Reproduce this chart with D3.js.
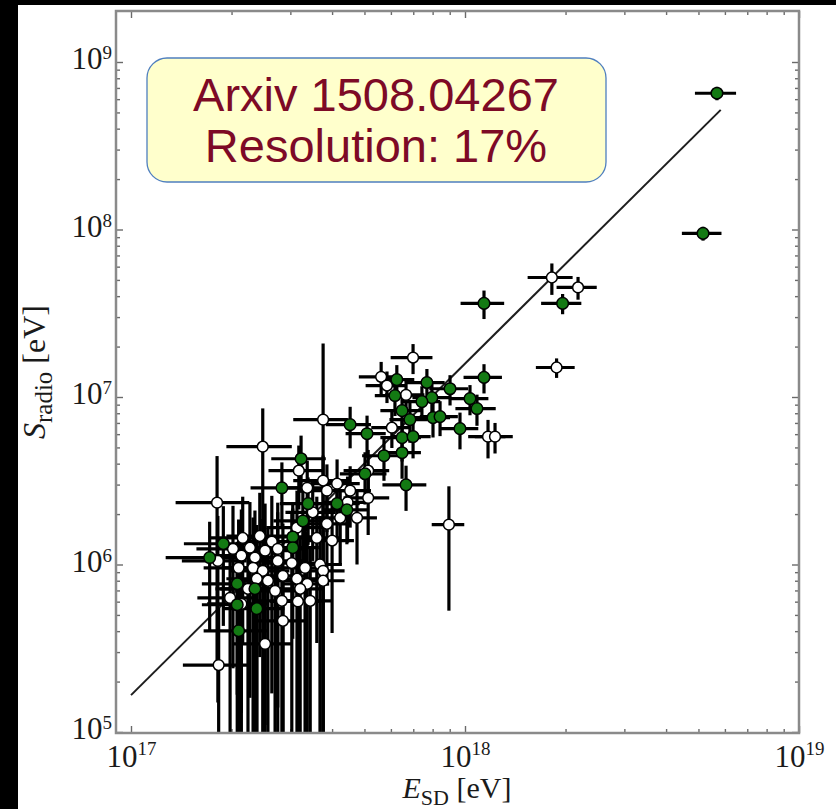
<!DOCTYPE html>
<html>
<head>
<meta charset="utf-8">
<script src="https://cdn.jsdelivr.net/npm/d3@7"></script>
<style>
  html, body { margin: 0; padding: 0; background: #000; }
  svg { display: block; }
</style>
</head>
<body>
<svg id="chart" width="836" height="809"></svg>
<script>
// Radio-emission energy S_radio versus surface-detector energy E_SD.
// Event rows: [E_SD (EeV), sigma E_SD (EeV), S_radio (MeV), sigma S_radio (MeV)]
const greenEvents = [
  [5.68, 0.80, 651, 60],
  [5.16, 0.70, 94.8, 9],
  [1.14, 0.17, 36.2, 7],
  [1.96, 0.27, 36.2, 5],
  [1.14, 0.15, 13.1, 2.6],
  [0.625, 0.08, 12.7, 2.8],
  [0.769, 0.10, 12.2, 2.5],
  [0.902, 0.12, 11.2, 2.3],
  [0.617, 0.08, 10.2, 2.5],
  [0.796, 0.10, 9.92, 2.2],
  [0.743, 0.10, 9.39, 2.2],
  [1.035, 0.14, 9.78, 2.0],
  [1.086, 0.15, 8.53, 1.8],
  [0.648, 0.09, 8.29, 2.2],
  [0.684, 0.09, 7.33, 2.0],
  [0.802, 0.10, 7.53, 1.8],
  [0.842, 0.11, 7.64, 1.8],
  [0.966, 0.13, 6.47, 1.6],
  [0.453, 0.07, 6.84, 1.9],
  [0.509, 0.07, 6.04, 1.7],
  [0.648, 0.09, 5.72, 1.6],
  [0.699, 0.09, 5.80, 1.5],
  [0.572, 0.08, 4.46, 1.3],
  [0.648, 0.09, 4.65, 1.4],
  [0.502, 0.08, 3.48, 1.2],
  [0.666, 0.10, 2.99, 0.9],
  [0.323, 0.06, 4.28, 1.6],
  [0.283, 0.055, 2.87, 1.2],
  [0.339, 0.06, 2.31, 1.0],
  [0.327, 0.06, 1.82, 0.9],
  [0.414, 0.07, 2.31, 0.9],
  [0.443, 0.07, 2.12, 0.8],
  [0.305, 0.06, 1.46, 0.9],
  [0.305, 0.06, 1.26, 0.9],
  [0.189, 0.045, 1.33, 0.9],
  [0.172, 0.045, 1.10, 0.7],
  [0.208, 0.045, 0.767, 0.6],
  [0.235, 0.05, 0.716, 0.65],
  [0.208, 0.045, 0.575, 0.6],
  [0.238, 0.05, 0.545, 0.6],
  [0.210, 0.045, 0.402, 0.45]
];

const whiteEvents = [
  [1.82, 0.28, 51.7, 11],
  [2.18, 0.30, 45.1, 7],
  [1.88, 0.25, 15.0, 2.0],
  [0.699, 0.10, 17.2, 3.5],
  [0.561, 0.08, 13.2, 3.0],
  [0.666, 0.09, 10.3, 2.3],
  [0.604, 0.08, 6.56, 1.6],
  [1.172, 0.15, 5.80, 1.5],
  [1.23, 0.16, 5.80, 1.2],
  [0.895, 0.10, 1.73, 1.2],
  [0.584, 0.08, 11.7, 2.5],
  [0.376, 0.07, 7.33, 13.5],
  [0.248, 0.055, 5.05, 3.5],
  [0.181, 0.045, 2.34, 2.1],
  [0.318, 0.06, 3.63, 1.5],
  [0.337, 0.06, 2.87, 1.3],
  [0.513, 0.08, 3.63, 1.2],
  [0.414, 0.07, 3.04, 1.2],
  [0.386, 0.07, 2.76, 1.2],
  [0.453, 0.07, 2.76, 1.1],
  [0.513, 0.08, 2.50, 1.0],
  [0.423, 0.07, 1.90, 0.9],
  [0.475, 0.07, 1.90, 0.9],
  [0.386, 0.07, 1.75, 1.0],
  [0.314, 0.06, 1.66, 1.1],
  [0.376, 0.07, 3.17, 1.3],
  [0.350, 0.06, 2.05, 1.0],
  [0.445, 0.07, 2.35, 1.0],
  [0.216, 0.045, 1.44, 1.1],
  [0.202, 0.045, 1.24, 1.0],
  [0.214, 0.045, 1.13, 1.0],
  [0.227, 0.045, 1.26, 1.1],
  [0.243, 0.05, 1.48, 1.2],
  [0.264, 0.05, 1.37, 1.2],
  [0.275, 0.05, 1.24, 1.1],
  [0.235, 0.045, 1.10, 1.0],
  [0.252, 0.05, 1.21, 1.1],
  [0.210, 0.045, 0.955, 0.9],
  [0.232, 0.045, 0.955, 0.95],
  [0.275, 0.05, 1.05, 1.0],
  [0.303, 0.055, 1.02, 1.0],
  [0.248, 0.05, 0.917, 0.95],
  [0.257, 0.05, 0.800, 0.85],
  [0.238, 0.045, 0.822, 0.9],
  [0.285, 0.05, 0.856, 0.9],
  [0.314, 0.055, 0.822, 0.85],
  [0.332, 0.055, 0.955, 0.95],
  [0.337, 0.055, 0.767, 0.8],
  [0.368, 0.06, 1.00, 0.95],
  [0.376, 0.06, 0.917, 0.9],
  [0.360, 0.06, 1.44, 1.1],
  [0.400, 0.065, 1.39, 1.0],
  [0.198, 0.04, 0.632, 0.7],
  [0.224, 0.045, 0.716, 0.75],
  [0.270, 0.05, 0.696, 0.75],
  [0.283, 0.05, 0.607, 0.65],
  [0.321, 0.055, 0.716, 0.75],
  [0.344, 0.055, 0.607, 0.65],
  [0.376, 0.06, 0.800, 0.8],
  [0.182, 0.04, 1.05, 0.9],
  [0.214, 0.045, 0.582, 0.65],
  [0.285, 0.05, 0.461, 0.5],
  [0.252, 0.05, 0.336, 0.4],
  [0.183, 0.04, 0.251, 0.3],
  [0.316, 0.055, 0.602, 0.65]
];

// Calibration fit, end points in eV
const fitLine = [[1e17, 1.66e5], [5.83e18, 5.18e8]];

const xTicks = [1e17, 1e18, 1e19];
const yTicks = [1e5, 1e6, 1e7, 1e8, 1e9];
const noteLines = ["Arxiv 1508.04267", "Resolution: 17%"];

const EeV = 1e18, MeV = 1e6;
const W = 836, H = 809;
const frame = { left: 116, top: 11, right: 799, bottom: 733 };

const svg = d3.select("#chart");

// white page
svg.append("rect")
  .attr("x", 18).attr("y", 5)
  .attr("width", W - 18).attr("height", H - 5)
  .attr("fill", "#ffffff");

const x = d3.scaleLog().domain([1e17, 1e19]).range([131, 799]);
const y = d3.scaleLog().domain([1e5, 1e9]).range([732, 62]);

// minor tick positions inside the frame
const xMinor = [];
for (const k of [16, 17, 18]) for (let m = 2; m <= 9; m++) {
  const v = m * Math.pow(10, k);
  const px = x(v);
  if (px > frame.left + 1 && px < frame.right - 1) xMinor.push(v);
}
const yMinor = [];
for (const k of [4, 5, 6, 7, 8, 9]) for (let m = 2; m <= 9; m++) {
  const v = m * Math.pow(10, k);
  const py = y(v);
  if (py > frame.top + 1 && py < frame.bottom - 1) yMinor.push(v);
}

const serif = "'Liberation Serif', 'DejaVu Serif', serif";
const tickColor = "#6a6a6a";

function styleAxis(g) {
  g.select(".domain").remove();
  g.selectAll(".tick line").attr("stroke", tickColor).attr("stroke-width", 1.4);
}

// major + minor ticks on all four sides, pointing inward
const axes = svg.append("g");
const bottomMajor = axes.append("g").attr("transform", `translate(0,${frame.bottom})`)
  .call(d3.axisBottom(x).tickValues(xTicks).tickSize(-7).tickPadding(12).tickFormat(() => ""))
  .call(styleAxis);
axes.append("g").attr("transform", `translate(0,${frame.bottom})`)
  .call(d3.axisBottom(x).tickValues(xMinor).tickSize(-4).tickFormat(() => "")).call(styleAxis);
axes.append("g").attr("transform", `translate(0,${frame.top})`)
  .call(d3.axisTop(x).tickValues(xTicks).tickSize(-7).tickFormat(() => "")).call(styleAxis);
axes.append("g").attr("transform", `translate(0,${frame.top})`)
  .call(d3.axisTop(x).tickValues(xMinor).tickSize(-4).tickFormat(() => "")).call(styleAxis);

const leftMajor = axes.append("g").attr("transform", `translate(${frame.left},0)`)
  .call(d3.axisLeft(y).tickValues(yTicks).tickSize(-7).tickPadding(4).tickFormat(() => ""))
  .call(styleAxis);
axes.append("g").attr("transform", `translate(${frame.left},0)`)
  .call(d3.axisLeft(y).tickValues(yMinor).tickSize(-4).tickFormat(() => "")).call(styleAxis);
axes.append("g").attr("transform", `translate(${frame.right},0)`)
  .call(d3.axisRight(y).tickValues(yTicks).tickSize(-7).tickFormat(() => "")).call(styleAxis);
axes.append("g").attr("transform", `translate(${frame.right},0)`)
  .call(d3.axisRight(y).tickValues(yMinor).tickSize(-4).tickFormat(() => "")).call(styleAxis);

// power-of-ten tick labels
function powerLabel(sel, baseSize, supSize, raise) {
  sel.each(function (d) {
    const t = d3.select(this)
      .attr("fill", "#1a1a1a")
      .attr("font-family", serif)
      .attr("font-size", baseSize);
    t.text(null);
    t.append("tspan").text("10");
    t.append("tspan").attr("font-size", supSize).attr("dy", -raise)
      .text(Math.round(Math.log10(d)));
  });
}
bottomMajor.selectAll(".tick text").call(powerLabel, 31, 19, 12);
leftMajor.selectAll(".tick text").attr("dy", "0.22em").call(powerLabel, 31, 19, 10);

// clipped plotting area
svg.append("clipPath").attr("id", "plotClip")
  .append("rect")
  .attr("x", frame.left).attr("y", frame.top)
  .attr("width", frame.right - frame.left).attr("height", frame.bottom - frame.top);
const plot = svg.append("g").attr("clip-path", "url(#plotClip)");

// fit line
plot.append("path")
  .datum(fitLine)
  .attr("fill", "none")
  .attr("stroke", "#1e1e1e")
  .attr("stroke-width", 2)
  .attr("d", d3.line().x(d => x(d[0])).y(d => y(d[1])));

// error bars
const allEvents = whiteEvents.concat(greenEvents);
const bars = plot.append("g").attr("stroke", "#000").attr("stroke-width", 3.2);
bars.selectAll("line.h").data(allEvents).join("line").attr("class", "h")
  .attr("x1", d => x((d[0] - d[1]) * EeV))
  .attr("x2", d => x((d[0] + d[1]) * EeV))
  .attr("y1", d => y(d[2] * MeV))
  .attr("y2", d => y(d[2] * MeV));
bars.selectAll("line.v").data(allEvents).join("line").attr("class", "v")
  .attr("x1", d => x(d[0] * EeV))
  .attr("x2", d => x(d[0] * EeV))
  .attr("y1", d => y(Math.max(d[2] - d[3], 1e-3) * MeV))
  .attr("y2", d => y((d[2] + d[3]) * MeV));

// markers
function markers(data, fill, r) {
  plot.append("g").selectAll("circle").data(data).join("circle")
    .attr("cx", d => x(d[0] * EeV))
    .attr("cy", d => y(d[2] * MeV))
    .attr("r", r)
    .attr("fill", fill)
    .attr("stroke", "#000")
    .attr("stroke-width", 1.5);
}
markers(whiteEvents, "#ffffff", 5.4);
markers(greenEvents, "#137a13", 5.8);

// frame
svg.append("rect")
  .attr("x", frame.left).attr("y", frame.top)
  .attr("width", frame.right - frame.left).attr("height", frame.bottom - frame.top)
  .attr("fill", "none").attr("stroke", "#8a8a8a").attr("stroke-width", 2.5);

// axis titles
const xTitle = svg.append("text")
  .attr("x", 457).attr("y", 798)
  .attr("text-anchor", "middle")
  .attr("font-family", serif).attr("font-size", 30).attr("fill", "#1a1a1a");
xTitle.append("tspan").attr("font-style", "italic").text("E");
xTitle.append("tspan").attr("font-size", 22).attr("dy", 7).text("SD");
xTitle.append("tspan").attr("dy", -7).text(" [eV]");

const yTitle = svg.append("text")
  .attr("transform", "translate(45,372) rotate(-90)")
  .attr("text-anchor", "middle")
  .attr("font-family", serif).attr("font-size", 32).attr("fill", "#1a1a1a");
yTitle.append("tspan").attr("font-style", "italic").text("S");
yTitle.append("tspan").attr("font-size", 25).attr("dy", 7).text("radio");
yTitle.append("tspan").attr("dy", -7).text(" [eV]");

// annotation box
const note = svg.append("g");
note.append("rect")
  .attr("x", 147).attr("y", 58).attr("width", 459).attr("height", 124)
  .attr("rx", 20).attr("ry", 20)
  .attr("fill", "#ffffcc").attr("stroke", "#4f7fbf").attr("stroke-width", 1.3);
note.selectAll("text").data(noteLines).join("text")
  .attr("x", 376)
  .attr("y", (d, i) => 111 + i * 51)
  .attr("text-anchor", "middle")
  .attr("font-family", "'Liberation Sans', Arial, sans-serif")
  .attr("font-size", 47)
  .attr("fill", "#7d0a26")
  .text(d => d);
</script>
</body>
</html>
